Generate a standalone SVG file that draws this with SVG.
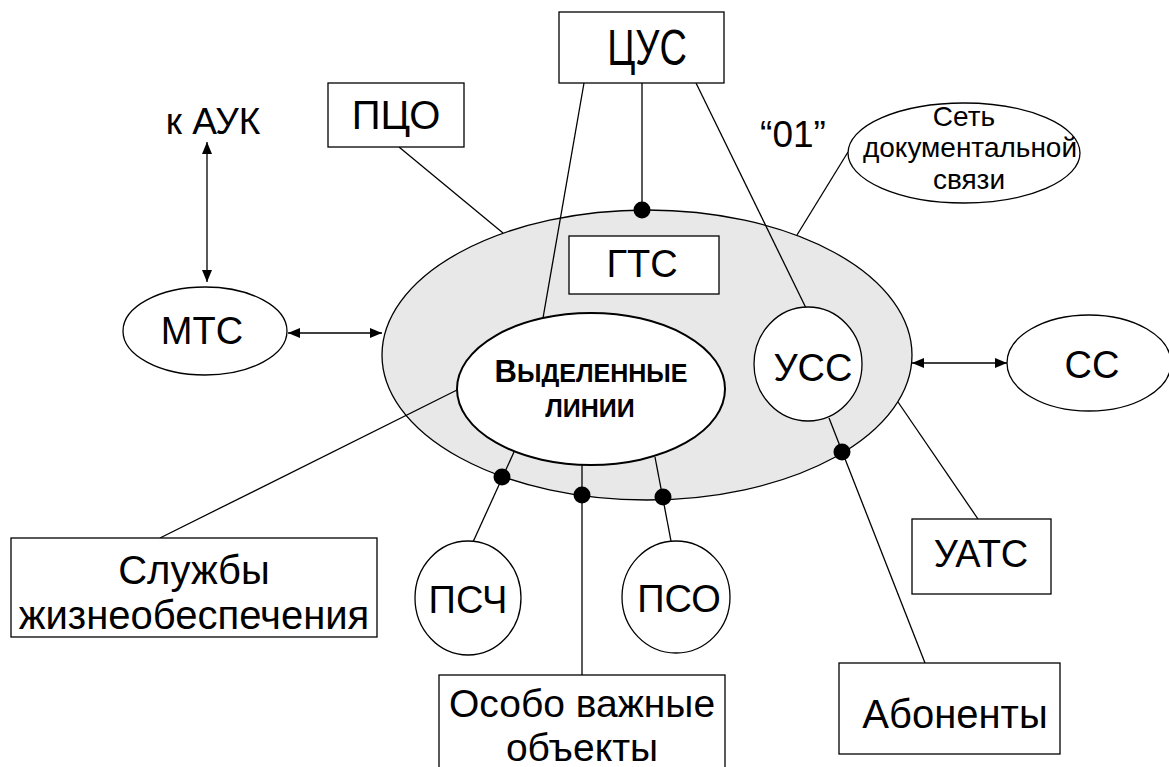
<svg xmlns="http://www.w3.org/2000/svg" width="1169" height="767" viewBox="0 0 1169 767">
<style>
  .box{fill:#fff;stroke:#000;stroke-width:1.3}
  .nd{fill:#fff;stroke:#000;stroke-width:1.3}
  .ln{stroke:#000;stroke-width:1.3;fill:none}
  .ar{stroke:#000;stroke-width:1.3;fill:none;marker-start:url(#ah);marker-end:url(#ah)}
  .dot{fill:#000}
  text{font-family:"Liberation Sans",Arial,sans-serif;fill:#000;text-anchor:middle}
  .t40{font-size:40px}
  .t39{font-size:39px}
  .t38{font-size:38px}
  .t28{font-size:28px}
  .b{font-weight:bold}
</style>
<defs>
  <marker id="ah" viewBox="0 0 12 10" refX="12" refY="5" markerWidth="12" markerHeight="10" markerUnits="userSpaceOnUse" orient="auto-start-reverse">
    <path d="M0,0 L12,5 L0,10 z" fill="#000"/>
  </marker>
</defs>

<g id="gts-area">
  <ellipse cx="647" cy="355" rx="265" ry="145" fill="#e8e8e8" stroke="#000" stroke-width="1.3"/>
</g>

<g id="connectors">
  <line class="ln" x1="584" y1="83" x2="543" y2="318"/>
  <line class="ln" x1="642" y1="83" x2="642" y2="210"/>
  <line class="ln" x1="696" y1="83" x2="806" y2="308"/>
  <line class="ln" x1="399" y1="147" x2="503" y2="233"/>
  <line class="ln" x1="848" y1="152" x2="797" y2="235"/>
  <line class="ln" x1="457" y1="390" x2="160" y2="538"/>
  <line class="ln" x1="514" y1="452" x2="473" y2="542"/>
  <line class="ln" x1="582" y1="464" x2="582" y2="675"/>
  <line class="ln" x1="655" y1="457" x2="671" y2="541"/>
  <line class="ln" x1="829" y1="418" x2="925" y2="663"/>
  <line class="ln" x1="898" y1="402" x2="978" y2="519"/>
  <line class="ar" x1="207" y1="142" x2="207" y2="282"/>
  <line class="ar" x1="288" y1="333" x2="382" y2="333"/>
  <line class="ar" x1="912" y1="363" x2="1007" y2="363"/>
  <circle class="dot" cx="642" cy="210" r="8.5"/>
  <circle class="dot" cx="502" cy="477" r="8.5"/>
  <circle class="dot" cx="582" cy="495" r="8.5"/>
  <circle class="dot" cx="663" cy="497" r="8.5"/>
  <circle class="dot" cx="842" cy="452" r="8.5"/>
</g>

<g id="cus">
  <rect class="box" x="559" y="12" width="165" height="71"/>
  <text class="t38" x="0" y="0" transform="translate(647,65) scale(1,1.3)">ЦУС</text>
</g>
<g id="pco">
  <rect class="box" x="328" y="83" width="136" height="64"/>
  <text class="t40" x="396" y="129">ПЦО</text>
</g>
<g id="auk">
  <text x="213" y="134" style="font-size:37px">к АУК</text>
</g>
<g id="mts">
  <ellipse class="nd" cx="205" cy="331" rx="82" ry="44"/>
  <text class="t38" x="202" y="344">МТС</text>
</g>
<g id="label01">
  <text x="793" y="147" style="font-size:37px">“01”</text>
</g>
<g id="sdс">
  <ellipse class="nd" cx="964" cy="153" rx="116" ry="50"/>
  <text class="t28" x="964" y="126">Сеть</text>
  <text class="t28" x="970" y="157">документальной</text>
  <text class="t28" x="969" y="189">связи</text>
</g>
<g id="gts">
  <rect class="box" x="569" y="236" width="150" height="58"/>
  <text class="t38" x="642" y="277">ГТС</text>
</g>
<g id="lines">
  <ellipse cx="591" cy="389" rx="134" ry="76" fill="#fff" stroke="#000" stroke-width="2"/>
  <text class="b" x="591" y="382" style="font-size:25px"><tspan style="font-size:31px">В</tspan>ЫДЕЛЕННЫЕ</text>
  <text class="b" x="590" y="417" style="font-size:25px">ЛИНИИ</text>
</g>
<g id="uss">
  <ellipse class="nd" cx="808" cy="364" rx="54" ry="57"/>
  <text class="t38" x="813" y="381">УСС</text>
</g>
<g id="ss">
  <ellipse class="nd" cx="1089" cy="363" rx="82" ry="48"/>
  <text class="t38" x="1092" y="378">СС</text>
</g>
<g id="uats">
  <rect class="box" x="912" y="519" width="139" height="75"/>
  <text class="t38" x="981" y="567">УАТС</text>
</g>
<g id="abonenty">
  <rect class="box" x="839" y="663" width="221" height="91"/>
  <text class="t40" x="955" y="728">Абоненты</text>
</g>
<g id="sluzhby">
  <rect class="box" x="11" y="538" width="366" height="99"/>
  <text class="t40" x="194" y="584">Службы</text>
  <text class="t40" x="194" y="629">жизнеобеспечения</text>
</g>
<g id="psch">
  <ellipse class="nd" cx="468" cy="598" rx="53" ry="57"/>
  <text class="t38" x="468" y="613">ПСЧ</text>
</g>
<g id="pso">
  <ellipse class="nd" cx="676" cy="597" rx="54" ry="56"/>
  <text class="t38" x="679" y="612">ПСО</text>
</g>
<g id="osobo">
  <rect class="box" x="439" y="675" width="286" height="100"/>
  <text class="t39" x="582" y="717">Особо важные</text>
  <text class="t39" x="582" y="761">объекты</text>
</g>
</svg>
